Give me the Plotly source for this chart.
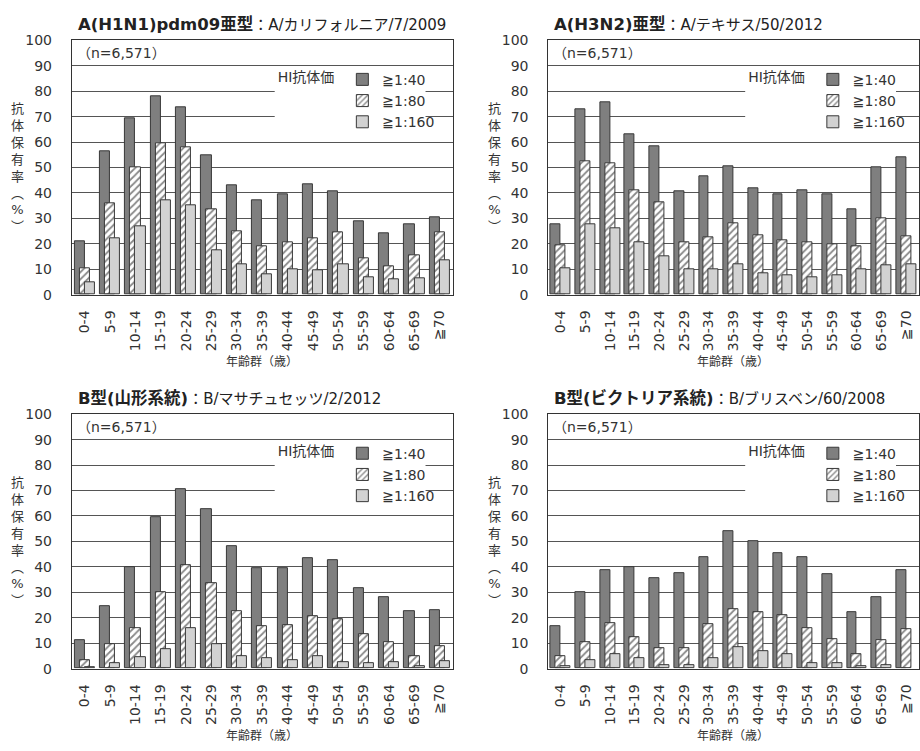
import plotly.graph_objects as go

# Age groups on the category axis
age_groups = ["0-4", "5-9", "10-14", "15-19", "20-24", "25-29", "30-34", "35-39",
              "40-44", "45-49", "50-54", "55-59", "60-64", "65-69", "≧70"]

series_names = ["≧1:40", "≧1:80", "≧1:160"]

# A(H1N1)pdm09 : A/カリフォルニア/7/2009
h1n1_40 = [21, 56.5, 69.5, 78, 73.5, 55, 43, 37, 39.5, 43.5, 40.5, 29, 24, 27.5, 30.5]
h1n1_80 = [10.5, 36, 50, 59.5, 58, 33.5, 25, 19, 20.5, 22, 24.5, 14.5, 11, 15.5, 24.5]
h1n1_160 = [5, 22, 27, 37, 35, 17.5, 12, 8, 10, 9.5, 12, 7, 6, 6.5, 13.5]

# A(H3N2) : A/テキサス/50/2012
h3n2_40 = [27.5, 73, 75.5, 63, 58.5, 40.5, 46.5, 50.5, 42, 39.5, 41, 39.5, 33.5, 50, 54]
h3n2_80 = [19.5, 52.5, 51.5, 41, 36.5, 20.5, 22.5, 28, 23.5, 21.5, 20.5, 20, 19, 30, 23]
h3n2_160 = [10.5, 27.5, 26, 20.5, 15, 10, 10, 12, 8.5, 7.5, 7, 7.5, 10, 11.5, 12]

# B (山形系統) : B/マサチュセッツ/2/2012
byam_40 = [11, 24.5, 40, 59.5, 70.5, 62.5, 48, 39.5, 39.5, 43.5, 42.5, 31.5, 28, 22.5, 23]
byam_80 = [3.5, 9.5, 16, 30, 40.5, 33.5, 22.5, 16.5, 17, 20.5, 19.5, 13.5, 10.5, 5, 9]
byam_160 = [0.5, 2, 4.5, 7.5, 16, 9.5, 5, 4, 3.5, 5, 2.5, 2, 2.5, 1, 3]

# B (ビクトリア系統) : B/ブリスベン/60/2008
bvic_40 = [16.5, 30, 38.5, 40, 35.5, 37.5, 44, 54, 50, 45.5, 44, 37, 22, 28, 38.5]
bvic_80 = [5, 10.5, 18, 12.5, 8, 8, 17.5, 23.5, 22, 21, 16, 11.5, 5.5, 11, 15.5]
bvic_160 = [1, 3.5, 5.5, 4, 1.5, 1.5, 4, 8.5, 7, 5.5, 2, 2, 1, 1.5, None]

panel_bold = ["A(H1N1)pdm09亜型", "A(H3N2)亜型", "B型(山形系統)", "B型(ビクトリア系統)"]
panel_strain = ["A/カリフォルニア/7/2009", "A/テキサス/50/2012", "B/マサチュセッツ/2/2012", "B/ブリスベン/60/2008"]
sample_note = "（n=6,571）"
legend_title = "HI抗体価"
y_title = "抗<br>体<br>保<br>有<br>率<br>︵<br>%<br>︶"
x_title = "年齢群（歳）"

panel_data = [
    (h1n1_40, h1n1_80, h1n1_160),
    (h3n2_40, h3n2_80, h3n2_160),
    (byam_40, byam_80, byam_160),
    (bvic_40, bvic_80, bvic_160),
]

W, H = 920, 751
FONT = "DejaVu Sans, Noto Sans CJK JP, sans-serif"
TEXT = "#333333"

# plot-area boxes in pixels: (left, right, top, bottom)
boxes = [
    (72, 453, 33, 293),
    (549, 920, 33, 293),
    (72, 453, 415, 675),
    (549, 920, 415, 675),
]
# category width in pixels per column
cat_px = [25.4, 24.7, 25.4, 24.7]
# legend block: left edge and right edge offsets from the plot's left side
legend_lr = [(203, 354), (197, 348), (203, 354), (197, 348)]

fills = ["#7f7f7f", "#ffffff", "#d2d2d2"]
offsets = [-0.4, -0.2, 0.0]
bar_w = 0.4

fig = go.Figure()
layout_axes = {}
annotations = []
shapes = []

for i, (vals, box) in enumerate(zip(panel_data, boxes)):
    k = "" if i == 0 else str(i + 1)
    xref, yref = "x" + k, "y" + k
    legend_id = "legend" + k
    for j, (name, v) in enumerate(zip(series_names, vals)):
        marker = dict(color=fills[j], line=dict(color="#383838", width=1))
        if j == 1:
            marker["pattern"] = dict(shape="/", fgcolor="#111111", bgcolor="#ffffff",
                                     size=5, solidity=0.35)
        fig.add_trace(go.Bar(
            x=age_groups, y=v, name=name, xaxis=xref, yaxis=yref,
            width=bar_w, offset=offsets[j], marker=marker,
            legend=legend_id, showlegend=True,
        ))

    l, r, t, b = box
    span = (r - l) / cat_px[i]
    layout_axes["xaxis" + k] = dict(
        domain=[l / W, r / W], anchor=yref, type="category",
        range=[-0.5, -0.5 + span], tickangle=-90,
        tickfont=dict(family=FONT, size=14, color=TEXT),
        showline=True, linecolor="#333333", linewidth=1.2, mirror=True,
        ticks="", showgrid=False, ticklabelstandoff=9,
    )
    layout_axes["yaxis" + k] = dict(
        domain=[1 - b / H, 1 - t / H], anchor=xref, range=[0, 100], dtick=10,
        tickfont=dict(family=FONT, size=14, color=TEXT),
        showline=True, linecolor="#333333", linewidth=1.2, mirror=True,
        showgrid=True, gridcolor="#555555", gridwidth=1, zeroline=False,
        ticks="", ticklabelstandoff=16,
    )
    lx0, lx1 = legend_lr[i]
    layout_axes[legend_id] = dict(
        x=(l + lx0 + 1) / W, y=1 - (t + 24) / H, xanchor="left", yanchor="top",
        bgcolor="rgba(0,0,0,0)", borderwidth=0,
        font=dict(family=FONT, size=14, color=TEXT),
        title=dict(text=legend_title, side="left", font=dict(family=FONT, size=14, color=TEXT)),
        itemwidth=30, tracegroupgap=0,
    )
    # white backing behind the legend, between the 90 and 60 gridlines
    shapes.append(dict(
        type="rect", xref="paper", yref="paper", layer="above",
        x0=(l + lx0) / W, x1=(l + lx1) / W,
        y0=1 - (t + 99) / H, y1=1 - (t + 31) / H,
        fillcolor="#ffffff", line=dict(width=0),
    ))

    # panel heading
    annotations.append(dict(
        x=(l + 4) / W, y=1 - (t - 16) / H, xref="paper", yref="paper",
        xanchor="left", yanchor="middle", showarrow=False,
        text=f"<b>{panel_bold[i]}</b><span style='font-size:15px'>：{panel_strain[i]}</span>",
        font=dict(family=FONT, size=16.5, color="#222222"),
    ))
    # sample size note inside plot area
    annotations.append(dict(
        x=(l + 3) / W, y=1 - (t + 13) / H, xref="paper", yref="paper",
        xanchor="left", yanchor="middle", showarrow=False,
        text=sample_note, font=dict(family=FONT, size=14, color=TEXT),
    ))
    # vertical y-axis title
    annotations.append(dict(
        x=(l - 54) / W, y=1 - ((t + b) / 2) / H, xref="paper", yref="paper",
        xanchor="center", yanchor="middle", showarrow=False,
        text=y_title, font=dict(family=FONT, size=13, color=TEXT),
    ))
    # x-axis title
    annotations.append(dict(
        x=((l + min(r, l + 15 * cat_px[i])) / 2) / W, y=1 - (b + 69) / H,
        xref="paper", yref="paper", xanchor="center", yanchor="middle",
        showarrow=False, text=x_title, font=dict(family=FONT, size=12, color=TEXT),
    ))

fig.update_layout(
    width=W, height=H, margin=dict(l=0, r=0, t=0, b=0),
    paper_bgcolor="#ffffff", plot_bgcolor="#ffffff",
    barmode="overlay", bargap=0,
    font=dict(family=FONT, color=TEXT),
    annotations=annotations,
    shapes=shapes,
    **layout_axes,
)

fig.write_html("out.html")
